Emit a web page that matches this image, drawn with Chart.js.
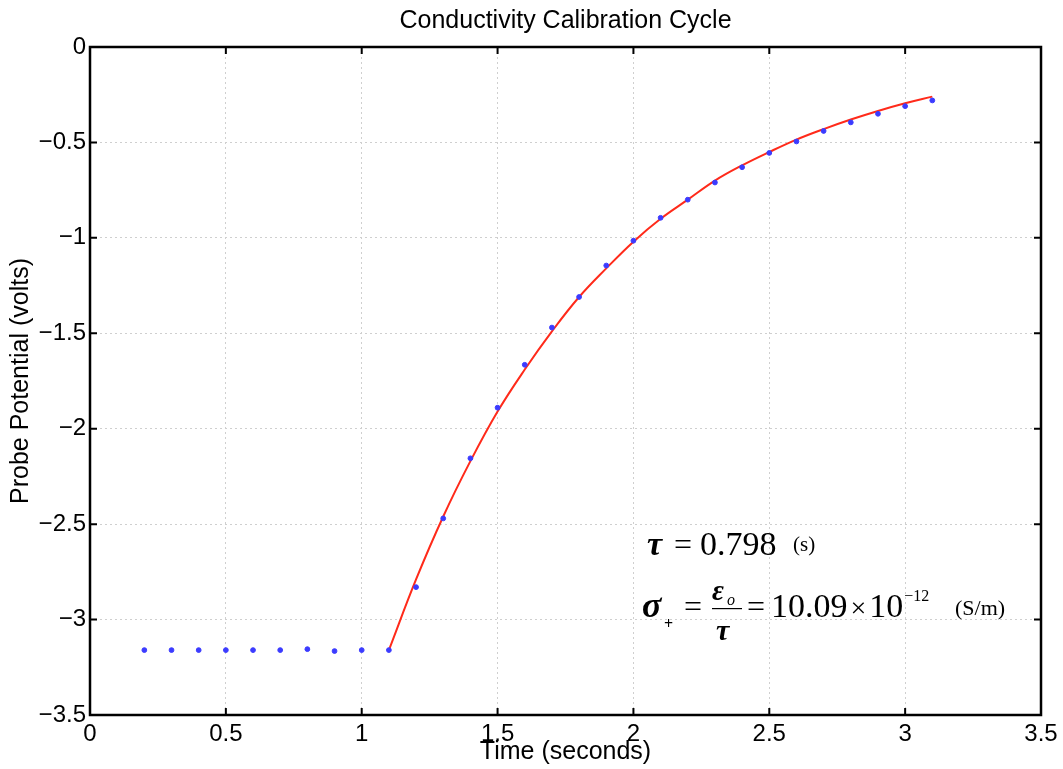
<!DOCTYPE html>
<html>
<head>
<meta charset="utf-8">
<script src="https://cdn.jsdelivr.net/npm/chart.js@4.4.0/dist/chart.umd.min.js"></script>
<style>
  html, body { margin: 0; padding: 0; background: #fff; }
  #wrap { width: 1063px; height: 769px; }
</style>
</head>
<body>
<div id="wrap"><canvas id="chart" width="1063" height="769"></canvas></div>
<script>
// measured samples (blue dots)
const sampleTimes = [0.2, 0.3, 0.4, 0.5, 0.6, 0.7, 0.8, 0.9, 1.0, 1.1,
  1.2, 1.3, 1.4, 1.5, 1.6, 1.7, 1.8, 1.9, 2.0, 2.1,
  2.2, 2.3, 2.4, 2.5, 2.6, 2.7, 2.8, 2.9, 3.0, 3.1];
const sampleVolts = [-3.16, -3.16, -3.16, -3.16, -3.16, -3.16, -3.155, -3.165, -3.16, -3.16,
  -2.83, -2.47, -2.155, -1.89, -1.665, -1.47, -1.31, -1.145, -1.015, -0.895,
  -0.80, -0.71, -0.63, -0.555, -0.495, -0.44, -0.395, -0.35, -0.31, -0.28];

// fitted curve (red line)
const fitTimes = [1.1, 1.2, 1.3, 1.4, 1.5, 1.6, 1.7, 1.8, 1.9, 2.0, 2.1,
  2.2, 2.3, 2.4, 2.5, 2.6, 2.7, 2.8, 2.9, 3.0, 3.1];
const fitVolts = [-3.16, -2.79, -2.46, -2.17, -1.91, -1.69, -1.49, -1.31, -1.16, -1.02, -0.90,
  -0.80, -0.70, -0.62, -0.55, -0.485, -0.43, -0.38, -0.335, -0.295, -0.26];

const xTicks = [0, 0.5, 1, 1.5, 2, 2.5, 3, 3.5];
const yTicks = [0, -0.5, -1, -1.5, -2, -2.5, -3, -3.5];

const sans = "'Liberation Sans', Arial, sans-serif";
const serif = "'Liberation Serif', 'Times New Roman', serif";

// box around the plot with inward tick marks on all four sides
const boxPlugin = {
  id: 'box',
  afterDatasetsDraw(chart) {
    const { ctx, chartArea: a, scales } = chart;
    ctx.save();
    ctx.strokeStyle = '#000';
    ctx.lineWidth = 2;
    ctx.beginPath();
    xTicks.forEach(v => {
      const px = scales.x.getPixelForValue(v);
      ctx.moveTo(px, a.bottom); ctx.lineTo(px, a.bottom - 7);
      ctx.moveTo(px, a.top); ctx.lineTo(px, a.top + 7);
    });
    yTicks.forEach(v => {
      const py = scales.y.getPixelForValue(v);
      ctx.moveTo(a.left, py); ctx.lineTo(a.left + 7, py);
      ctx.moveTo(a.right, py); ctx.lineTo(a.right - 7, py);
    });
    ctx.stroke();
    ctx.lineWidth = 2.5;
    ctx.strokeRect(a.left, a.top, a.right - a.left, a.bottom - a.top);
    ctx.restore();
  }
};

// the formula text inside the plot
const formulaPlugin = {
  id: 'formula',
  afterDraw(chart) {
    const ctx = chart.ctx;
    ctx.save();
    ctx.fillStyle = '#000';
    ctx.textBaseline = 'alphabetic';
    ctx.textAlign = 'left';
    // draws a piece and returns the x where it ends
    const put = (txt, font, x, y) => {
      ctx.font = font;
      ctx.fillText(txt, x, y);
      return x + ctx.measureText(txt).width;
    };

    // line 1
    put('\u03C4', 'italic bold 34px ' + serif, 647, 555);
    put('=', '32px ' + serif, 674, 555);
    put('0.798', '34px ' + serif, 700, 555);
    put('(s)', '21px ' + serif, 793, 551);

    // line 2
    put('\u03C3', 'italic bold 36px ' + serif, 642, 617);
    put('+', 'bold 16px ' + serif, 664, 629);
    put('=', '32px ' + serif, 684, 617);
    put('\u03B5', 'italic bold 29px ' + serif, 712, 600);
    put('o', 'italic 16px ' + serif, 727, 605);
    ctx.fillRect(712, 608, 30, 1.2);
    put('\u03C4', 'italic bold 30px ' + serif, 716, 640);
    put('=', '32px ' + serif, 747, 617);
    let x = put('10.09', '34px ' + serif, 771, 617);
    x = put('\u00D7', '28px ' + serif, x + 3, 617);
    x = put('10', '34px ' + serif, x + 3, 617);
    put('\u2212' + '12', '16px ' + serif, x + 1, 601);
    put('(S/m)', '22px ' + serif, 955, 615);
    ctx.restore();
  }
};

const minus = v => String(v).replace('-', '\u2212');

new Chart(document.getElementById('chart'), {
  type: 'scatter',
  data: {
    datasets: [
      {
        type: 'line',
        label: 'fit',
        data: fitTimes.map((t, i) => ({ x: t, y: fitVolts[i] })),
        borderColor: '#ff2a1a',
        borderWidth: 2,
        pointRadius: 0,
        tension: 0.4,
        fill: false,
        order: 1
      },
      {
        label: 'samples',
        data: sampleTimes.map((t, i) => ({ x: t, y: sampleVolts[i] })),
        backgroundColor: '#3b3bff',
        borderColor: '#3b3bff',
        pointRadius: 2.4,
        showLine: false,
        order: 0
      }
    ]
  },
  options: {
    responsive: false,
    animation: false,
    layout: { padding: { left: 0, right: 22, top: 0, bottom: 0 } },
    plugins: {
      legend: { display: false },
      tooltip: { enabled: false },
      title: {
        display: true,
        text: 'Conductivity Calibration Cycle',
        color: '#000',
        fullSize: false,
        font: { family: sans, size: 25, weight: 'normal' },
        padding: { top: 6, bottom: 11 }
      }
    },
    scales: {
      x: {
        type: 'linear',
        min: 0,
        max: 3.5,
        afterFit(scale) { scale.height = 54; },
        afterBuildTicks(scale) { scale.ticks = xTicks.map(v => ({ value: v })); },
        ticks: {
          color: '#000',
          padding: 5,
          maxRotation: 0,
          autoSkip: false,
          font: { family: sans, size: 24 },
          callback: v => minus(v)
        },
        grid: { color: '#cfcfcf', lineWidth: 1, drawTicks: false },
        border: { display: false, dash: [2, 3] },
        title: {
          display: true,
          text: 'Time (seconds)',
          color: '#000',
          font: { family: sans, size: 25 },
          padding: { top: 0, bottom: 2 }
        }
      },
      y: {
        type: 'linear',
        min: -3.5,
        max: 0,
        afterFit(scale) { scale.width = 90; },
        afterBuildTicks(scale) { scale.ticks = yTicks.map(v => ({ value: v })); },
        ticks: {
          color: '#000',
          padding: 4,
          autoSkip: false,
          font: { family: sans, size: 24 },
          callback: v => minus(v)
        },
        grid: { color: '#cfcfcf', lineWidth: 1, drawTicks: false },
        border: { display: false, dash: [2, 3] },
        title: {
          display: true,
          text: 'Probe Potential (volts)',
          color: '#000',
          font: { family: sans, size: 25 },
          padding: { top: 6, bottom: 0 }
        }
      }
    }
  },
  plugins: [boxPlugin, formulaPlugin]
});
</script>
</body>
</html>
